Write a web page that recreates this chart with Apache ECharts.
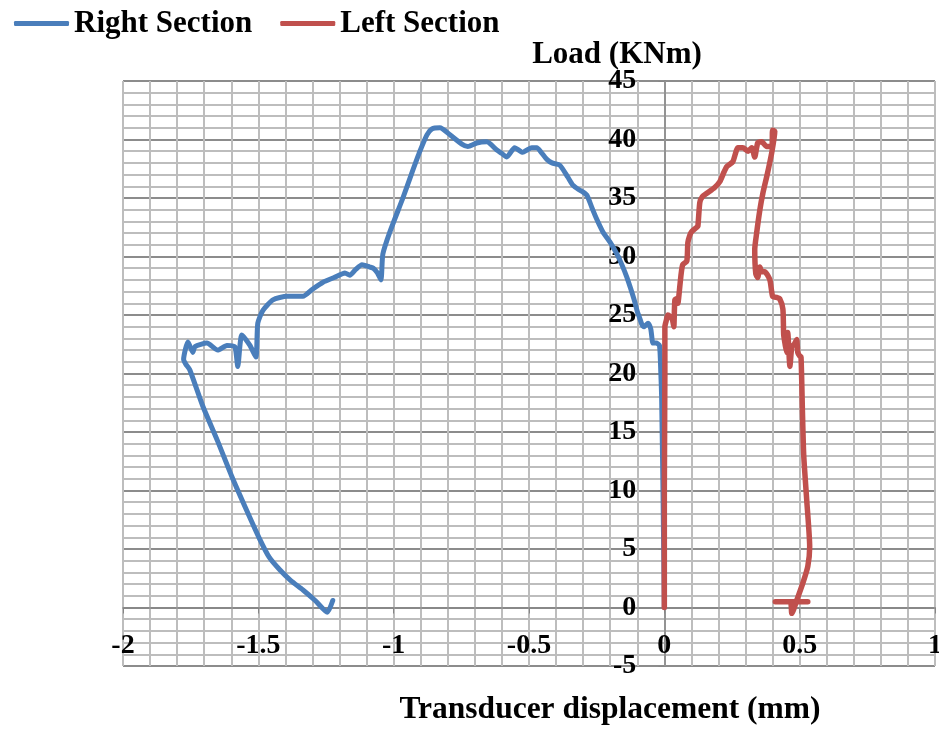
<!DOCTYPE html>
<html>
<head>
<meta charset="utf-8">
<script src="https://cdn.jsdelivr.net/npm/echarts@6/dist/echarts.min.js"></script>
<style>
  html, body { margin: 0; padding: 0; background: #fff; }
  #chart { width: 939px; height: 729px; }
</style>
</head>
<body>
<div id="chart"></div>
<script>
// Displacement (mm) and load (KNm) for each transducer section
const rightX = [0, -0.005, -0.01, -0.013, -0.018, -0.03, -0.042, -0.05, -0.06, -0.075, -0.083, -0.092, -0.1, -0.109, -0.125, -0.138, -0.155, -0.175, -0.2, -0.227, -0.25, -0.268, -0.285, -0.3, -0.315, -0.338, -0.357, -0.386, -0.415, -0.434, -0.455, -0.471, -0.49, -0.507, -0.523, -0.553, -0.582, -0.6, -0.619, -0.656, -0.693, -0.726, -0.748, -0.792, -0.829, -0.859, -0.877, -0.903, -0.935, -0.966, -1.014, -1.04, -1.047, -1.06, -1.075, -1.088, -1.117, -1.14, -1.162, -1.18, -1.22, -1.261, -1.3, -1.335, -1.394, -1.446, -1.483, -1.502, -1.509, -1.531, -1.561, -1.576, -1.587, -1.616, -1.65, -1.69, -1.734, -1.742, -1.76, -1.776, -1.768, -1.753, -1.705, -1.65, -1.598, -1.545, -1.494, -1.46, -1.42, -1.38, -1.335, -1.29, -1.245, -1.225];
const rightY = [0, 10, 18, 20.1, 22.4, 22.6, 22.6, 23.8, 24.3, 24.0, 24.2, 24.8, 25.3, 26.1, 27.3, 28.2, 29.2, 30.2, 31.2, 32.1, 33.2, 34.2, 35.2, 35.5, 35.7, 36.1, 36.8, 37.8, 38.0, 38.3, 38.9, 39.3, 39.3, 39.1, 38.9, 39.3, 38.5, 38.8, 39.1, 39.8, 39.7, 39.4, 39.6, 40.4, 41.0, 40.9, 40.4, 39.0, 37.0, 35.0, 32.1, 30.2, 28.0, 28.6, 29.0, 29.1, 29.3, 28.9, 28.4, 28.6, 28.2, 27.8, 27.2, 26.6, 26.6, 26.3, 25.4, 24.3, 21.4, 22.4, 23.3, 20.6, 22.3, 22.4, 22.0, 22.6, 22.3, 21.8, 22.7, 21.2, 20.8, 20.3, 17.2, 14.2, 11.2, 8.4, 5.8, 4.3, 3.2, 2.3, 1.5, 0.6, -0.4, 0.6];

const leftX = [0, 0.0, 0.002, 0.002, 0.008, 0.013, 0.02, 0.03, 0.035, 0.039, 0.047, 0.05, 0.057, 0.062, 0.068, 0.083, 0.087, 0.094, 0.1, 0.12, 0.124, 0.131, 0.14, 0.157, 0.186, 0.205, 0.22, 0.231, 0.253, 0.272, 0.29, 0.31, 0.323, 0.334, 0.345, 0.36, 0.378, 0.397, 0.4, 0.408, 0.397, 0.38, 0.364, 0.353, 0.341, 0.334, 0.338, 0.345, 0.353, 0.36, 0.371, 0.39, 0.4, 0.415, 0.426, 0.438, 0.441, 0.447, 0.452, 0.456, 0.464, 0.471, 0.48, 0.489, 0.493, 0.5, 0.505, 0.51, 0.515, 0.526, 0.537, 0.53, 0.512, 0.489, 0.471, 0.465, 0.41, 0.53];
const leftY = [0, 10, 20, 24, 24.6, 25.0, 24.9, 24.6, 24.0, 26.3, 26.4, 26.0, 27.4, 28.5, 29.3, 29.6, 31.2, 31.8, 32.1, 32.5, 32.6, 34.6, 35.1, 35.4, 35.9, 36.4, 37.2, 37.7, 38.1, 39.3, 39.3, 39.0, 39.3, 38.5, 39.7, 39.8, 39.4, 39.4, 40.8, 40.7, 38.9, 37.0, 35.4, 34.0, 32.0, 30.6, 28.5, 28.2, 29.1, 28.7, 28.7, 28.0, 26.6, 26.5, 26.4, 25.5, 23.3, 22.4, 21.8, 23.5, 20.6, 22.3, 22.5, 22.9, 21.8, 21.5, 21.4, 17.0, 13.0, 9.2, 5.2, 3.5, 2.1, 0.6, -0.5, 0.5, 0.5, 0.5];

const seriesNames = ['Right Section', 'Left Section'];
const xAxisTitle = 'Transducer displacement (mm)';
const yAxisTitle = 'Load (KNm)';

const pairs = (xs, ys) => xs.map((x, i) => [x, ys[i]]);

const FONT = "'Liberation Serif', 'Times New Roman', serif";
const minorGrid = '#bdbdbd';
const majorGrid = '#8c8c8c';
const axisColor = '#868686';

const chart = echarts.init(document.getElementById('chart'), null, { renderer: 'canvas' });

chart.setOption({
  animation: false,
  backgroundColor: '#ffffff',
  legend: {
    left: 9,
    top: 3,
    icon: 'roundRect',
    itemWidth: 55,
    itemHeight: 5,
    itemGap: 28,
    textStyle: { fontFamily: FONT, fontWeight: 'bold', fontSize: 31, color: '#000' },
    data: seriesNames
  },
  grid: {
    left: 123, right: 4, top: 81, bottom: 63,
    containLabel: false,
    outerBoundsMode: 'none'
  },
  xAxis: {
    type: 'value',
    min: -2, max: 1, interval: 0.5,
    axisLine: { onZero: false, lineStyle: { color: axisColor, width: 1.5 } },
    axisTick: { show: true, length: 6, lineStyle: { color: axisColor } },
    axisLabel: { margin: 24, fontFamily: FONT, fontWeight: 'bold', fontSize: 28, color: '#000' },
    splitLine: { show: true, lineStyle: { color: minorGrid, width: 2 } },
    minorTick: { show: false, splitNumber: 5 },
    minorSplitLine: { show: true, lineStyle: { color: minorGrid, width: 2 } }
  },
  yAxis: {
    type: 'value',
    min: -5, max: 45, interval: 5,
    axisLine: { onZero: false, lineStyle: { color: axisColor, width: 1.5 } },
    axisTick: { show: true, length: 6, lineStyle: { color: axisColor } },
    axisLabel: { margin: 28, fontFamily: FONT, fontWeight: 'bold', fontSize: 28, color: '#000' },
    splitLine: { show: true, lineStyle: { color: majorGrid, width: 2 } },
    minorTick: { show: false, splitNumber: 5 },
    minorSplitLine: { show: true, lineStyle: { color: minorGrid, width: 2 } }
  },
  graphic: [
    {
      type: 'text', x: 617, y: 55,
      style: {
        text: yAxisTitle,
        font: "bold 31px " + FONT, fill: '#000',
        align: 'center', verticalAlign: 'middle'
      }
    },
    {
      type: 'text', x: 610, y: 710,
      style: {
        text: xAxisTitle,
        font: "bold 31.5px " + FONT, fill: '#000',
        align: 'center', verticalAlign: 'middle'
      }
    }
  ],
  series: [
    {
      name: seriesNames[0],
      type: 'line',
      data: pairs(rightX, rightY),
      showSymbol: false,
      smooth: 0.2,
      lineStyle: { color: '#4a7ebb', width: 5, cap: 'round', join: 'round' },
      itemStyle: { color: '#4a7ebb' },
      z: 3
    },
    {
      name: seriesNames[1],
      type: 'line',
      data: pairs(leftX, leftY),
      showSymbol: false,
      smooth: 0.2,
      lineStyle: { color: '#c0504d', width: 5.5, cap: 'round', join: 'round' },
      itemStyle: { color: '#c0504d' },
      z: 4
    }
  ]
});

// Move both axes (line, ticks and labels) so they cross at the data origin.
const origin = chart.convertToPixel({ gridIndex: 0 }, [0, 0]);
const gridRect = chart.getModel().getComponent('grid', 0).coordinateSystem.getRect();
chart.setOption({
  xAxis: { offset: origin[1] - (gridRect.y + gridRect.height) },
  yAxis: { offset: gridRect.x - origin[0] }
});
</script>
</body>
</html>
